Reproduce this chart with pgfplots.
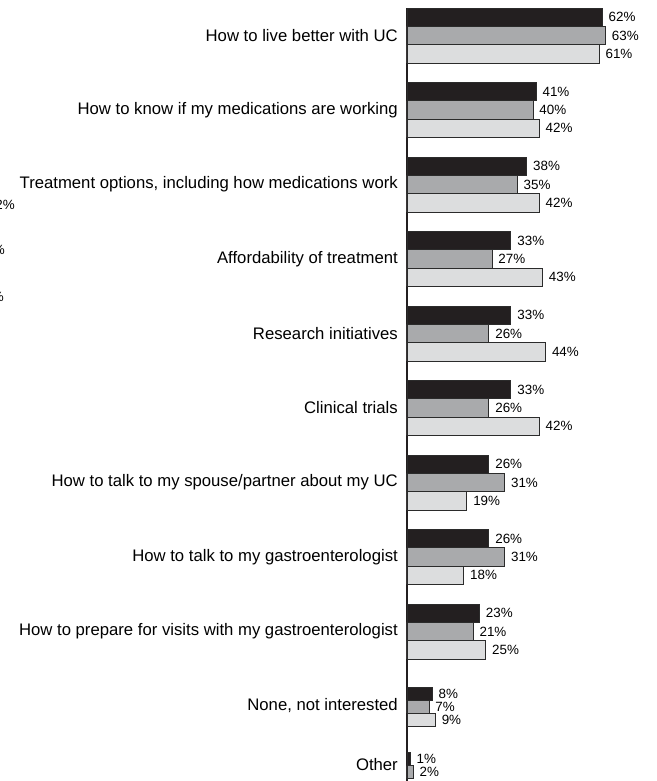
\documentclass[border=0pt]{standalone}
\usepackage{pgfplots}
\pgfplotsset{compat=1.18}
\usepackage{fontspec}
\setmainfont{Liberation Sans}
\definecolor{cBlack}{HTML}{231F20}
\definecolor{cGray}{HTML}{A9AAAC}
\definecolor{cLight}{HTML}{DCDDDE}
\definecolor{cEdge}{HTML}{2B2B2B}
\begin{document}
\begin{tikzpicture}
\useasboundingbox (-407bp,0bp) rectangle (250bp,781bp);
\begin{axis}[
  at={(0,0)}, anchor=south west,
  x=3.15bp, y=1bp, y dir=reverse,
  xmin=0, xmax=79.37, ymin=8, ymax=781,
  enlargelimits=false, clip=false,
  axis x line=none, axis y line=left,
  y axis line style={line width=1.4bp, draw=cBlack, -},
  xbar, bar shift=0pt,
  ytick={35.5,110,184.5,259,333.5,408,482.5,557,631.5,706,765},
  yticklabels={How to live better with UC,
    How to know if my medications are working,
    {Treatment options, including how medications work},
    Affordability of treatment,
    Research initiatives,
    Clinical trials,
    How to talk to my spouse/partner about my UC,
    How to talk to my gastroenterologist,
    How to prepare for visits with my gastroenterologist,
    {None, not interested},
    Other},
  major tick length=0pt,
  yticklabel style={font=\fontsize{16.7bp}{19bp}\selectfont, anchor=east, inner sep=0pt, xshift=-9bp},
  point meta=x,
  nodes near coords={\pgfmathprintnumber{\pgfplotspointmeta}\%},
  nodes near coords style={font=\fontsize{13.4bp}{15bp}\selectfont, anchor=west, inner sep=0pt, xshift=6bp, text=black, /pgf/number format/assume math mode=true},
  every axis plot/.append style={draw=cEdge, line width=0.9bp},
]
% black series (large groups)
\addplot[fill=cBlack, bar width=18.3bp] coordinates {
  (62,17.2) (41,91.7) (38,166.2) (33,240.7) (33,315.2) (33,389.7) (26,464.2) (26,538.7) (23,613.2)};
% gray series
\addplot[fill=cGray, bar width=18.3bp] coordinates {
  (63,35.5) (40,110) (35,184.5) (27,259) (26,333.5) (26,408) (31,482.5) (31,557) (21,631.5)};
% light series
\addplot[fill=cLight, bar width=18.3bp] coordinates {
  (61,53.8) (42,128.3) (42,202.8) (43,277.3) (44,351.8) (42,426.3) (19,500.8) (18,575.3) (25,649.8)};
% small groups
\addplot[fill=cBlack, bar width=13bp] coordinates {(8,693.5) (1,759)};
\addplot[fill=cGray, bar width=13bp] coordinates {(7,706.5) (2,772)};
\addplot[fill=cLight, bar width=13bp] coordinates {(9,719.5)};
\end{axis}
\node[anchor=east, font=\fontsize{13.4bp}{15bp}\selectfont, inner sep=0pt] at (-392bp,576bp) {2\%};
\node[anchor=east, font=\fontsize{13.4bp}{15bp}\selectfont, inner sep=0pt] at (-402bp,531bp) {\%};
\node[anchor=east, font=\fontsize{13.4bp}{15bp}\selectfont, inner sep=0pt] at (-403bp,484bp) {\%};
\end{tikzpicture}
\end{document}
